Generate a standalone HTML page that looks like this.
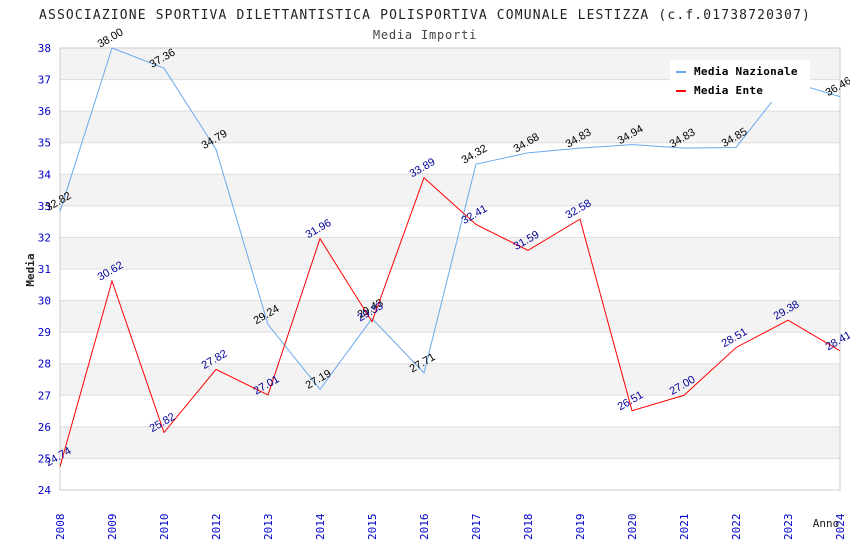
<!DOCTYPE html>
<html><head><meta charset="utf-8"><style>
body{margin:0;background:#fff;}
svg text{font-family:"DejaVu Sans Mono","Liberation Mono",monospace;}
svg text.val{font-family:"Liberation Sans","DejaVu Sans",sans-serif;}
</style></head><body>
<svg id="c" width="850" height="550" xmlns="http://www.w3.org/2000/svg">
<text x="425" y="19" text-anchor="middle" font-size="13" letter-spacing="1.15" fill="#222">ASSOCIAZIONE SPORTIVA DILETTANTISTICA POLISPORTIVA COMUNALE LESTIZZA (c.f.01738720307)</text>
<text x="425" y="39" text-anchor="middle" font-size="12" letter-spacing="0.8" fill="#444">Media Importi</text>
<g id="grid"></g><g id="axes"></g><g id="series"></g>
<text x="34" y="270" font-size="11" font-weight="bold" fill="#222" text-anchor="middle" transform="rotate(-90 34 270)">Media</text>
<text x="826" y="527" font-size="11" fill="#222" text-anchor="middle">Anno</text>
<g>
<rect x="670" y="60" width="140" height="42" fill="#fff"/>
<g><rect x="676" y="71" width="10" height="2" fill="#6aaaee"/><text x="694" y="75" font-size="11" font-weight="bold" letter-spacing="0.3" fill="#000">Media Nazionale</text></g>
<g><rect x="676" y="90" width="10" height="2" fill="#ff0000"/><text x="694" y="94" font-size="11" font-weight="bold" letter-spacing="0.3" fill="#000">Media Ente</text></g>
</g>
</svg>
<script>
const years=["2008","2009","2010","2012","2013","2014","2015","2016","2017","2018","2019","2020","2021","2022","2023","2024"];
const nazionale=[32.82,38.00,37.36,34.79,29.24,27.19,29.43,27.71,34.32,34.68,34.83,34.94,34.83,34.85,36.95,36.46];
const ente=[24.74,30.62,25.82,27.82,27.01,31.96,29.33,33.89,32.41,31.59,32.58,26.51,27.00,28.51,29.38,28.41];
const yTicks=[24,25,26,27,28,29,30,31,32,33,34,35,36,37,38];
const NS="http://www.w3.org/2000/svg";
const X0=60,X1=840,Y0=490,Y1=48,VMIN=24,VMAX=38;
const xs=i=>X0+i*(X1-X0)/(years.length-1);
const ys=v=>Y0-(v-VMIN)*(Y0-Y1)/(VMAX-VMIN);
function mk(t,a,p){const e=document.createElementNS(NS,t);for(const k in a)e.setAttribute(k,a[k]);p.appendChild(e);return e;}
const grid=document.getElementById('grid'),axes=document.getElementById('axes'),ser=document.getElementById('series');
for(let v=VMIN;v<VMAX;v++){
 const r=mk('rect',{x:X0,y:ys(v+1),width:X1-X0,height:ys(v)-ys(v+1),fill:(v%2===1)?'#f3f3f3':'#ffffff'},grid);
 
 
}
yTicks.forEach(v=>{
 const l=mk('line',{x1:X0,x2:X1,y1:ys(v),y2:ys(v),stroke:'#dddddd','stroke-width':1},grid);
 
 
 const t=mk('text',{x:X0-9,y:ys(v)+4,'font-size':11,fill:'#0000cc','text-anchor':'end'},axes);
 t.textContent=v;
 
 
});
mk('rect',{x:X0,y:Y1,width:X1-X0,height:Y0-Y1,fill:'none',stroke:'#cccccc'},grid);
years.forEach((y,i)=>{
 const t=mk('text',{x:xs(i)+4,y:540,'font-size':11,fill:'#0000cc',transform:`rotate(-90 ${xs(i)+4} 540)`},axes);
 t.textContent=y;
 
 
});
function draw(vals,color,lblColor,name){
 const p=mk('polyline',{points:vals.map((v,i)=>xs(i)+','+ys(v)).join(' '),fill:'none',stroke:color,'stroke-width':1},ser);
 
 
 vals.forEach((v,i)=>{
  const x=xs(i),y=ys(v)-7;
  const t=mk('text',{x:x,y:y,'font-size':11,'class':'val','text-anchor':'middle',fill:lblColor,transform:`rotate(-30 ${x} ${y})`},ser);
  t.textContent=v.toFixed(2);
  
  
 });
}
draw(nazionale,'#6aaaee','#000','nazionale');
draw(ente,'#ff0000','#000099','ente');
</script>
</body></html>
